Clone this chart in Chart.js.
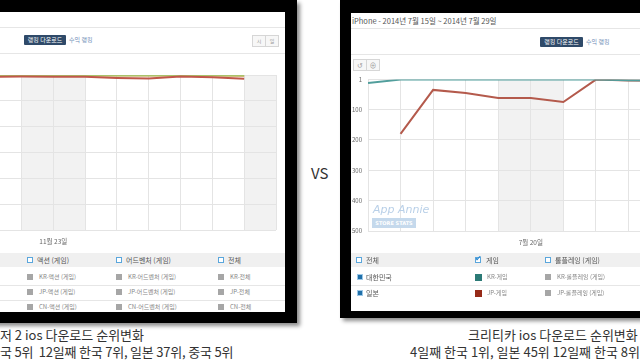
<!DOCTYPE html>
<html>
<head>
<meta charset="utf-8">
<script src="https://cdn.jsdelivr.net/npm/chart.js@4.4.1/dist/chart.umd.min.js"></script>
<style>
  body { margin: 0; width: 640px; height: 360px; overflow: hidden; position: relative; background: #fff; font-family: "Noto Sans CJK KR", "Noto Sans", sans-serif; }
  .a { position: absolute; white-space: nowrap; }
  .line { position: absolute; height: 1px; background: #e6e6e6; }
  .tab { position: absolute; background: #2f4a69; color: #fff; font-size: 6px; line-height: 10px; height: 10px; text-align: center; border-radius: 1px; }
  .link { position: absolute; color: #6d8cb5; font-size: 6px; line-height: 10px; }
  .btn { position: absolute; width: 12px; height: 10px; border: 1px solid #d6d6d6; background: #f7f7f7; color: #999; font-size: 5px; line-height: 10px; text-align: center; }
  .band { position: absolute; height: 14px; background: #f0f0f0; }
  .chk { position: absolute; width: 4px; height: 4px; border: 1px solid #5aa6dc; background: #fff; }
  .sq { position: absolute; width: 6px; height: 6px; background: #a6a6a6; }
  .lg { position: absolute; font-size: 7px; line-height: 10px; color: #555; white-space: nowrap; }
  .lgs { position: absolute; font-size: 6px; line-height: 10px; color: #888; white-space: nowrap; }
  .cap { position: absolute; font-size: 13px; line-height: 17px; color: #333; white-space: nowrap; }
</style>
</head>
<body>
<!-- left screenshot frame -->
<div class="a" style="left:-20px;top:0;width:317px;height:323px;background:#000;box-shadow:3px 3px 4px rgba(0,0,0,.45)"></div>
<div class="a" style="left:0;top:12px;width:285px;height:300px;background:#fff"></div>
<div class="line" style="left:0;top:27px;width:285px"></div>
<div class="tab" style="left:24px;top:35px;width:42px">랭킹 다운로드</div>
<div class="link" style="left:69px;top:35px">수익 랭킹</div>
<div class="btn" style="left:252px;top:35px">시</div>
<div class="btn" style="left:265px;top:35px">일</div>
<div class="line" style="left:0;top:53px;width:285px"></div>
<canvas id="leftChart" class="a" width="284" height="183" style="left:0;top:69px"></canvas>
<div class="band" style="left:0;top:253px;width:285px"></div>
<div class="line" style="left:0;top:285px;width:285px"></div>
<div class="line" style="left:0;top:300px;width:285px"></div>
<div class="chk" style="left:27px;top:257px"></div><div class="lg" style="left:37px;top:255px">액션 (게임)</div>
<div class="chk" style="left:116px;top:257px"></div><div class="lg" style="left:126px;top:255px">어드벤처 (게임)</div>
<div class="chk" style="left:218px;top:257px"></div><div class="lg" style="left:228px;top:255px">전체</div>
<div class="sq" style="left:27px;top:274px"></div><div class="lgs" style="left:39px;top:272px">KR-액션 (게임)</div>
<div class="sq" style="left:116px;top:274px"></div><div class="lgs" style="left:128px;top:272px">KR-어드벤처 (게임)</div>
<div class="sq" style="left:218px;top:274px"></div><div class="lgs" style="left:230px;top:272px">KR-전체</div>
<div class="sq" style="left:27px;top:289px"></div><div class="lgs" style="left:39px;top:287px">JP-액션 (게임)</div>
<div class="sq" style="left:116px;top:289px"></div><div class="lgs" style="left:128px;top:287px">JP-어드벤처 (게임)</div>
<div class="sq" style="left:218px;top:289px"></div><div class="lgs" style="left:230px;top:287px">JP-전체</div>
<div class="sq" style="left:27px;top:304px"></div><div class="lgs" style="left:39px;top:302px">CN-액션 (게임)</div>
<div class="sq" style="left:116px;top:304px"></div><div class="lgs" style="left:128px;top:302px">CN-어드벤처 (게임)</div>
<div class="sq" style="left:218px;top:304px"></div><div class="lgs" style="left:230px;top:302px">CN-전체</div>

<div class="a" style="left:311px;top:162px;font-size:15px;color:#333">VS</div>

<!-- right screenshot frame -->
<div class="a" style="left:340px;top:0;width:320px;height:318px;background:#000;box-shadow:3px 3px 4px rgba(0,0,0,.45)"></div>
<div class="a" style="left:351px;top:13px;width:300px;height:298px;background:#fff"></div>
<div class="a" style="left:352px;top:15px;font-size:7.5px;color:#555">iPhone - 2014년 7월 15일 ~ 2014년 7월 29일</div>
<div class="line" style="left:351px;top:28px;width:300px"></div>
<div class="tab" style="left:540px;top:37px;width:43px">랭킹 다운로드</div>
<div class="link" style="left:586px;top:37px">수익 랭킹</div>
<div class="line" style="left:351px;top:54px;width:300px"></div>
<div class="btn" style="left:353px;top:59px;font-size:7px">↺</div>
<div class="btn" style="left:366px;top:59px;font-size:7px">⊕</div>
<canvas id="rightChart" class="a" width="321" height="181" style="left:348px;top:70px"></canvas>
<div class="a" style="left:373px;top:203px;font-size:11px;font-style:italic;color:#b9d0e8;font-family:'DejaVu Sans'">App Annie</div>
<div class="a" style="left:372px;top:218px;width:44px;height:10px;background:#c5d9ec;color:#fff;font-size:5px;line-height:10px;text-align:center;font-weight:bold;font-family:'DejaVu Sans'">STORE STATS</div>
<div class="band" style="left:351px;top:253px;width:300px"></div>
<div class="line" style="left:351px;top:285px;width:300px"></div>
<div class="chk" style="left:356px;top:257px"></div><div class="lg" style="left:366px;top:255px">전체</div>
<div class="chk" style="left:475px;top:257px"></div><div class="a" style="left:475px;top:252px;font-size:8px;color:#2e8ad0">✔</div><div class="lg" style="left:486px;top:255px">게임</div>
<div class="chk" style="left:545px;top:257px"></div><div class="lg" style="left:555px;top:255px">롤플레잉 (게임)</div>
<div class="a" style="left:357px;top:274px;width:4px;height:4px;background:#1f6fa8;border:1px solid #9cc8e8"></div><div class="lg" style="left:366px;top:272px">대한민국</div>
<div class="sq" style="left:475px;top:274px;width:7px;height:7px;background:#2b7a76"></div><div class="lgs" style="left:487px;top:272px">KR-게임</div>
<div class="sq" style="left:545px;top:274px"></div><div class="lgs" style="left:557px;top:272px">KR-롤플레잉 (게임)</div>
<div class="a" style="left:357px;top:290px;width:4px;height:4px;background:#1f6fa8;border:1px solid #9cc8e8"></div><div class="lg" style="left:366px;top:288px">일본</div>
<div class="sq" style="left:475px;top:290px;width:7px;height:7px;background:#962a18"></div><div class="lgs" style="left:487px;top:288px">JP-게임</div>
<div class="sq" style="left:545px;top:290px"></div><div class="lgs" style="left:557px;top:288px">JP-롤플레잉 (게임)</div>

<!-- captions -->
<div class="cap" style="left:0;top:326px">저 2 ios 다운로드 순위변화</div>
<div class="cap" style="left:0;top:343px;letter-spacing:-0.2px">국 5위&nbsp; 12일째 한국 7위, 일본 37위, 중국 5위</div>
<div class="cap" style="left:468px;top:326px">크리티카 ios 다운로드 순위변화</div>
<div class="cap" style="left:410px;top:343px">4일째 한국 1위, 일본 45위 12일째 한국 8위</div>

<script>
// left chart: 11월 daily ranks (day of month)
const leftDays = [21, 22, 23, 24, 25, 26, 27, 28, 29]
const leftKR = [6, 5, 5, 4, 5, 6, 5, 6, 7]
const leftJP = [18, 15, 16, 18, 28, 35, 15, 22, 37]
const leftCN = [5, 6, 4, 5, 5, 4, 5, 4, 5]
const leftGridDays = [22, 23, 24, 25, 26, 27, 28, 29, 30]
const leftRankTicks = [0, 250, 500, 750, 1000, 1250, 1500]
const leftWeekends = [[22, 24], [29, 31]]

// right chart: 7월 daily ranks
const rightDays = [15, 16, 17, 18, 19, 20, 21, 22, 23, 24]
const rightKR = [12, 1, 1, 1, 1, 1, 1, 1, 3, 4]
const rightJP = [null, 180, 35, 45, 62, 62, 75, 1, 4, 5]
const rightGridDays = [15, 16, 17, 18, 19, 20, 21, 22, 23, 24]
const rightRankTicks = [1, 100, 200, 300, 400, 500]
const rightWeekends = [[19, 21]]

const FONT = 'Noto Sans CJK KR'
const GRID = '#e4e4e4'

function toPoints (days, values) {
  return days.map((d, i) => ({ x: d, y: values[i] }))
}

// gray weekend columns, drawn under the grid
const weekendShade = {
  id: 'weekendShade',
  beforeDraw (chart, args, opts) {
    const { ctx, chartArea } = chart
    const xs = chart.scales.x
    ctx.save()
    ctx.fillStyle = '#f2f2f2'
    opts.ranges.forEach(([a, b]) => {
      const x1 = Math.max(xs.getPixelForValue(a), chartArea.left)
      const x2 = Math.min(xs.getPixelForValue(b), chartArea.right)
      ctx.fillRect(x1, chartArea.top, x2 - x1, chartArea.bottom - chartArea.top)
    })
    ctx.restore()
  }
}

function lineSet (label, data, color, width) {
  return {
    label,
    data,
    borderColor: color,
    borderWidth: width,
    pointRadius: 0,
    tension: 0,
    spanGaps: false
  }
}

new Chart(document.getElementById('leftChart'), {
  type: 'line',
  data: {
    datasets: [
      lineSet('JP-액션 (게임)', toPoints(leftDays, leftJP), '#c0574a', 2),
      lineSet('CN-액션 (게임)', toPoints(leftDays, leftCN), '#a9c26a', 1.5),
      lineSet('KR-액션 (게임)', toPoints(leftDays, leftKR), '#c3a24a', 2)
    ]
  },
  options: {
    responsive: false,
    animation: false,
    layout: { padding: { top: 6, right: 1, left: 0, bottom: 0 } },
    plugins: { legend: { display: false }, tooltip: { enabled: false }, weekendShade: { ranges: leftWeekends } },
    scales: {
      x: {
        type: 'linear',
        min: 21.325,
        max: 30,
        afterBuildTicks: s => { s.ticks = leftGridDays.map(v => ({ value: v })) },
        afterFit: s => { s.height = 22 },
        grid: { color: GRID, drawTicks: false },
        border: { display: false },
        ticks: {
          autoSkip: false,
          maxRotation: 0,
          padding: 8,
          color: '#666',
          font: { family: FONT, size: 6.5 },
          callback: v => v === 23 ? '11월 23일' : ''
        }
      },
      y: {
        reverse: true,
        min: 0,
        max: 1500,
        afterBuildTicks: s => { s.ticks = leftRankTicks.map(v => ({ value: v })) },
        afterFit: s => { s.width = 0 },
        grid: { color: GRID, drawTicks: false },
        border: { display: false },
        ticks: { display: false }
      }
    }
  },
  plugins: [weekendShade]
})

new Chart(document.getElementById('rightChart'), {
  type: 'line',
  data: {
    datasets: [
      lineSet('KR-게임', toPoints(rightDays, rightKR), '#519e9c', 2),
      lineSet('JP-게임', toPoints(rightDays, rightJP), '#b45a4c', 2)
    ]
  },
  options: {
    responsive: false,
    animation: false,
    layout: { padding: { top: 6, right: 1, left: 0, bottom: 0 } },
    plugins: { legend: { display: false }, tooltip: { enabled: false }, weekendShade: { ranges: rightWeekends } },
    scales: {
      x: {
        type: 'linear',
        min: 15,
        max: 24,
        afterBuildTicks: s => { s.ticks = rightGridDays.map(v => ({ value: v })) },
        afterFit: s => { s.height = 20 },
        grid: { color: GRID, drawTicks: false },
        border: { display: false },
        ticks: {
          autoSkip: false,
          maxRotation: 0,
          padding: 8,
          color: '#666',
          font: { family: FONT, size: 6.5 },
          callback: v => v === 20 ? '7월 20일' : ''
        }
      },
      y: {
        reverse: true,
        min: 1,
        max: 500,
        afterBuildTicks: s => { s.ticks = rightRankTicks.map(v => ({ value: v })) },
        afterFit: s => { s.width = 20 },
        grid: { color: GRID, drawTicks: false },
        border: { display: false },
        ticks: { padding: 6, color: '#666', font: { family: FONT, size: 6 } }
      }
    }
  },
  plugins: [weekendShade]
})
</script>
</body>
</html>
